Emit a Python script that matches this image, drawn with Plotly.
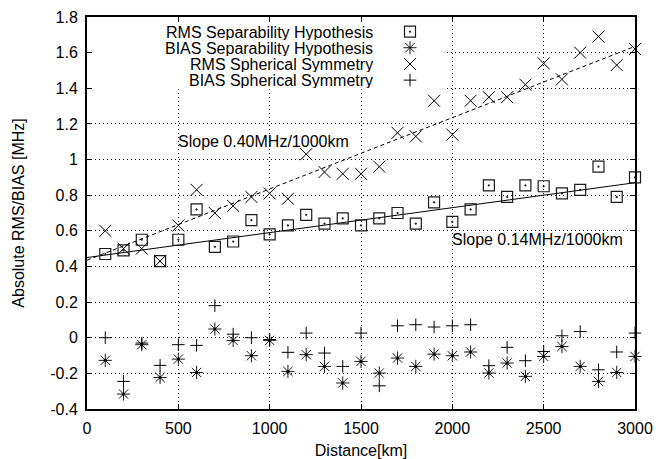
import plotly.graph_objects as go

# ---------------- data ----------------
distance = [100, 200, 300, 400, 500, 600, 700, 800, 900, 1000,
            1100, 1200, 1300, 1400, 1500, 1600, 1700, 1800, 1900, 2000,
            2100, 2200, 2300, 2400, 2500, 2600, 2700, 2800, 2900, 3000]

rms_separability = [0.47, 0.49, 0.55, 0.43, 0.55, 0.72, 0.51, 0.54, 0.66, 0.58,
                    0.63, 0.69, 0.64, 0.67, 0.63, 0.67, 0.70, 0.64, 0.76, 0.65,
                    0.72, 0.855, 0.79, 0.855, 0.85, 0.81, 0.83, 0.96, 0.79, 0.90]

bias_separability = [-0.127, -0.316, -0.039, -0.223, -0.12, -0.195, 0.049, -0.015, -0.101, -0.015,
                     -0.189, -0.095, -0.161, -0.254, -0.133, -0.198, -0.114, -0.161, -0.092, -0.101,
                     -0.08, -0.198, -0.142, -0.217, -0.105, -0.049, -0.161, -0.245, -0.195, -0.105]

rms_spherical = [0.60, 0.50, 0.50, 0.43, 0.63, 0.83, 0.70, 0.74, 0.79, 0.81,
                 0.78, 1.03, 0.93, 0.92, 0.92, 0.96, 1.15, 1.13, 1.33, 1.14,
                 1.33, 1.35, 1.35, 1.42, 1.54, 1.45, 1.60, 1.69, 1.53, 1.62]

bias_spherical = [0.0, -0.245, -0.03, -0.155, -0.039, -0.043, 0.18, 0.02, 0.0, -0.01,
                  -0.082, 0.026, -0.086, -0.161, 0.026, -0.27, 0.067, 0.073, 0.06, 0.067,
                  0.073, -0.157, -0.054, -0.129, -0.077, 0.011, 0.035, -0.18, -0.08, 0.026]

# fitted trend lines (MHz per km) and intercepts
fit_separability = {"slope": 0.14 / 1000, "intercept": 0.45}
fit_spherical = {"slope": 0.40 / 1000, "intercept": 0.435}
fit_x = [0, 3000]

series_names = ["RMS Separability Hypothesis", "BIAS Separability Hypothesis",
                "RMS Spherical Symmetry", "BIAS Spherical Symmetry"]

x_tickvals = [0, 500, 1000, 1500, 2000, 2500, 3000]
x_ticktext = ["0", "500", "1000", "1500", "2000", "2500", "3000"]
y_tickvals = [-0.4, -0.2, 0, 0.2, 0.4, 0.6, 0.8, 1.0, 1.2, 1.4, 1.6, 1.8]
y_ticktext = ["-0.4", "-0.2", "0", "0.2", "0.4", "0.6", "0.8", "1", "1.2", "1.4", "1.6", "1.8"]

slope_labels = ["Slope 0.40MHz/1000km", "Slope 0.14MHz/1000km"]

# ---------------- figure ----------------
FONT = "Liberation Sans, Arial, Helvetica, sans-serif"
FS = 16
INK = "#000000"

styles = [
    dict(symbol="square-open-dot", size=11, color="#1a1a1a", line=dict(width=1.2, color="#1a1a1a")),
    dict(symbol="asterisk-open", size=11, color=INK, line=dict(width=0.9, color=INK)),
    dict(symbol="x-thin-open", size=12, color=INK, line=dict(width=1.0, color=INK)),
    dict(symbol="cross-thin-open", size=9, color=INK, line=dict(width=1.0, color=INK)),
]
series = [rms_separability, bias_separability, rms_spherical, bias_spherical]

fig = go.Figure()

# trend lines
sep_line = [fit_separability["intercept"] + fit_separability["slope"] * x for x in fit_x]
sph_line = [fit_spherical["intercept"] + fit_spherical["slope"] * x for x in fit_x]
fig.add_trace(go.Scatter(x=fit_x, y=sep_line, mode="lines",
                         line=dict(color=INK, width=1), showlegend=False, hoverinfo="skip"))
fig.add_trace(go.Scatter(x=fit_x, y=sph_line, mode="lines",
                         line=dict(color=INK, width=1, dash="4px,3px"), showlegend=False, hoverinfo="skip"))

for name, ys, st in zip(series_names, series, styles):
    fig.add_trace(go.Scatter(x=distance, y=ys, mode="markers", name=name,
                             marker=st, cliponaxis=False, showlegend=False))

# center dots of the asterisks
fig.add_trace(go.Scatter(x=distance, y=bias_separability, mode="markers",
                         marker=dict(symbol="circle", size=3, color=INK),
                         cliponaxis=False, showlegend=False, hoverinfo="skip"))

# ---- hand-made key (text right, symbol to its right) on a hidden overlay axis ----
key_x = 0.5894
key_text_x = 0.5237
key_rows = [0.9625, 0.9217, 0.880, 0.839]
for name, st, yk in zip(series_names, styles, key_rows):
    fig.add_trace(go.Scatter(x=[key_x], y=[yk], mode="markers", marker=st,
                             xaxis="x2", yaxis="y2", showlegend=False, hoverinfo="skip",
                             cliponaxis=False))
    fig.add_annotation(x=key_text_x, y=yk, xref="paper", yref="paper", text=name,
                       showarrow=False, xanchor="right", yanchor="middle",
                       height=16, borderpad=0,
                       font=dict(family=FONT, size=FS, color=INK))

# white box behind the key hides the grid
fig.add_shape(type="rect", xref="x", yref="y", x0=2, x1=1965, y0=1.393, y1=1.795,
              fillcolor="white", line=dict(width=0), layer="between")

# slope labels
fig.add_annotation(x=500, y=1.10, xref="x", yref="y", text=slope_labels[0], showarrow=False,
                   xanchor="left", yanchor="middle", xshift=-2,
                   font=dict(family=FONT, size=FS, color=INK))
fig.add_annotation(x=2000, y=0.55, xref="x", yref="y", text=slope_labels[1], showarrow=False,
                   xanchor="left", yanchor="middle", xshift=-2,
                   font=dict(family=FONT, size=FS, color=INK))

axis_common = dict(showline=True, linecolor=INK, linewidth=2, mirror="allticks",
                   ticks="inside", ticklen=5, tickwidth=1.2, tickcolor=INK,
                   showgrid=True, gridcolor=INK, gridwidth=1, griddash="1px,3px",
                   zeroline=False, automargin=False,
                   tickfont=dict(family=FONT, size=FS, color=INK))

fig.update_layout(
    width=666, height=459,
    margin=dict(l=87, r=31, t=17, b=50),
    paper_bgcolor="white", plot_bgcolor="white",
    font=dict(family=FONT, size=FS, color=INK),
    xaxis=dict(range=[0, 3000], tickvals=x_tickvals, ticktext=x_ticktext,
               ticklabelstandoff=4,
               title=dict(text="Distance[km]", standoff=10, font=dict(family=FONT, size=FS, color=INK)),
               **axis_common),
    yaxis=dict(range=[-0.4, 1.8], tickvals=y_tickvals, ticktext=y_ticktext,
               ticklabelstandoff=4,
               title=dict(text="Absolute RMS/BIAS [MHz]", standoff=22, font=dict(family=FONT, size=FS, color=INK)),
               **axis_common),
    xaxis2=dict(range=[0, 1], overlaying="x", visible=False, domain=[0, 1]),
    yaxis2=dict(range=[0, 1], overlaying="y", visible=False, domain=[0, 1]),
    showlegend=False,
)

fig.write_html("out.html")
